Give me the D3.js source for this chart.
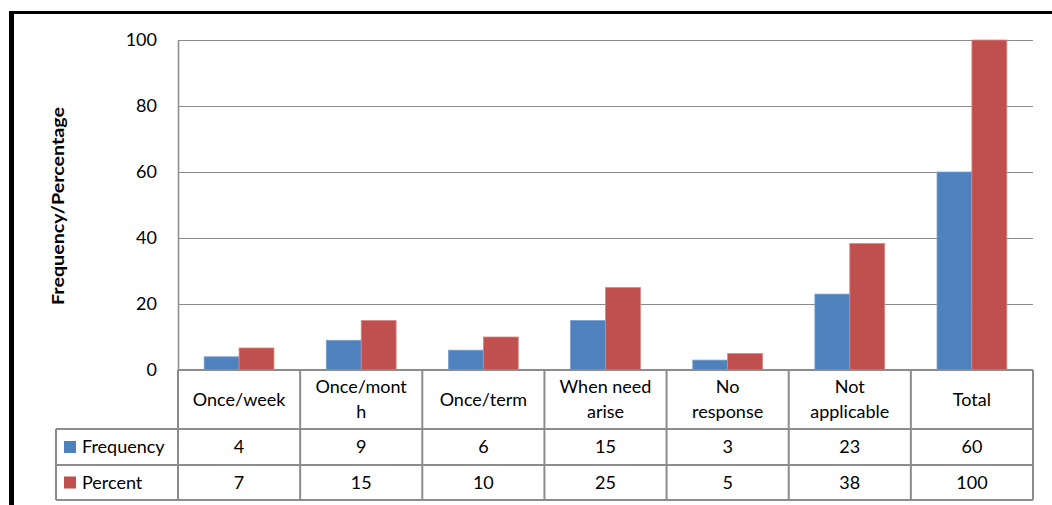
<!DOCTYPE html>
<html>
<head>
<meta charset="utf-8">
<script src="https://cdn.jsdelivr.net/npm/d3@7"></script>
<style>
  body { margin: 0; background: #fff; }
  svg { display: block; font-family: "Lato", "Open Sans", sans-serif; }
</style>
</head>
<body>
<div class="chart"></div>
<script>
// categories and the way Excel wrapped them in the data table
const categories = ["Once/week", "Once/month", "Once/term", "When need arise", "No response", "Not applicable", "Total"];
const categoryLines = [["Once/week"], ["Once/mont", "h"], ["Once/term"], ["When need", "arise"], ["No", "response"], ["Not", "applicable"], ["Total"]];

// series
const frequency = [4, 9, 6, 15, 3, 23, 60];
const percent = [6.67, 15, 10, 25, 5, 38.33, 100];
const seriesNames = ["Frequency", "Percent"];
const yTicks = [0, 20, 40, 60, 80, 100];

const W = 1052, H = 505;
const plotLeft = 178, plotRight = 1033, plotTop = 40, zeroY = 370;
const catRowBottom = 429, freqRowBottom = 465, pctRowBottom = 500, tableLeft = 56;
const fontSize = 18;

const svg = d3.select(".chart").append("svg").attr("width", W).attr("height", H);

// frame (only top and left edge visible in the picture)
svg.append("rect").attr("x", 11).attr("y", 12.5).attr("width", W + 20).attr("height", H + 20)
  .attr("fill", "none").attr("stroke", "#000").attr("stroke-width", 3);
svg.append("line").attr("x1", 11.5).attr("x2", 11.5).attr("y1", 11).attr("y2", H)
  .attr("stroke", "#000").attr("stroke-width", 5);

const x = d3.scaleBand().domain(categories).range([plotLeft, plotRight]);
const y = d3.scaleLinear().domain([0, 100]).range([zeroY, plotTop]);

// bar width from Excel gap width 150%: band = 2 bars + 1.5 bar
const barW = x.bandwidth() / 3.5;
const xs = d3.scaleBand().domain(seriesNames).range([0, 2 * barW]);
const color = d3.scaleOrdinal().domain(seriesNames).range(["#4F81BD", "#C0504D"]);
const edge = d3.scaleOrdinal().domain(seriesNames).range(["#7A9FD0", "#D88684"]);

// gridlines
svg.append("g").selectAll("line").data(yTicks.filter(d => d > 0)).join("line")
  .attr("x1", plotLeft).attr("x2", plotRight)
  .attr("y1", d => Math.round(y(d)) + 0.5).attr("y2", d => Math.round(y(d)) + 0.5)
  .attr("stroke", "#8c8c8c").attr("stroke-width", 1.2);

// y axis
const yAxis = svg.append("g").attr("transform", `translate(${plotLeft},0)`)
  .call(d3.axisLeft(y).tickValues(yTicks).tickSize(0).tickPadding(21));
yAxis.select(".domain").attr("stroke", "#8c8c8c").attr("stroke-width", 1.5);
yAxis.selectAll("text").attr("font-size", fontSize).attr("fill", "#000")
  .attr("font-family", "Lato, 'Open Sans', sans-serif");

// y axis title
svg.append("text")
  .attr("transform", `translate(64,${(plotTop + zeroY) / 2 + 1}) rotate(-90)`)
  .attr("text-anchor", "middle").attr("font-weight", "bold").attr("font-size", 17)
  .attr("textLength", 198).attr("lengthAdjust", "spacingAndGlyphs")
  .text("Frequency/Percentage");

// bars
const rows = categories.map((c, i) => ({ cat: c, Frequency: frequency[i], Percent: percent[i] }));
const group = svg.append("g").selectAll("g").data(rows).join("g")
  .attr("transform", d => `translate(${x(d.cat) + (x.bandwidth() - 2 * barW) / 2},0)`);
group.selectAll("rect").data(d => seriesNames.map(k => ({ key: k, value: d[k] }))).join("rect")
  .attr("x", d => xs(d.key)).attr("width", xs.bandwidth())
  .attr("y", d => y(d.value)).attr("height", d => zeroY - y(d.value))
  .attr("fill", d => color(d.key)).attr("stroke", d => edge(d.key)).attr("stroke-width", 0.8);

// data table
const tbl = svg.append("g").attr("stroke", "#8c8c8c").attr("stroke-width", 2).attr("fill", "none");
tbl.append("line").attr("x1", plotLeft).attr("x2", plotRight).attr("y1", zeroY).attr("y2", zeroY);
[catRowBottom, freqRowBottom, pctRowBottom].forEach(yy =>
  tbl.append("line").attr("x1", tableLeft).attr("x2", plotRight).attr("y1", yy).attr("y2", yy));
tbl.append("line").attr("x1", tableLeft).attr("x2", tableLeft).attr("y1", catRowBottom).attr("y2", pctRowBottom);
categories.forEach(c =>
  tbl.append("line").attr("x1", x(c)).attr("x2", x(c)).attr("y1", zeroY).attr("y2", pctRowBottom));
tbl.append("line").attr("x1", plotRight).attr("x2", plotRight).attr("y1", zeroY).attr("y2", pctRowBottom);

const txt = svg.append("g").attr("font-size", fontSize).attr("fill", "#000").attr("text-anchor", "middle");
categories.forEach((c, i) => {
  const lines = categoryLines[i];
  const cx = x(c) + x.bandwidth() / 2;
  const mid = (zeroY + catRowBottom) / 2;
  lines.forEach((ln, j) => {
    txt.append("text").attr("x", cx)
      .attr("y", mid + (j - (lines.length - 1) / 2) * 25)
      .attr("dy", "0.35em").text(ln);
  });
  txt.append("text").attr("x", cx).attr("y", (catRowBottom + freqRowBottom) / 2).attr("dy", "0.35em")
    .text(d3.format(".0f")(frequency[i]));
  txt.append("text").attr("x", cx).attr("y", (freqRowBottom + pctRowBottom) / 2).attr("dy", "0.35em")
    .text(d3.format(".0f")(percent[i]));
});

// legend keys in the table
const rowMids = [(catRowBottom + freqRowBottom) / 2, (freqRowBottom + pctRowBottom) / 2];
seriesNames.forEach((s, i) => {
  svg.append("rect").attr("x", 64).attr("y", rowMids[i] - 6).attr("width", 12).attr("height", 12)
    .attr("fill", color(s));
  svg.append("text").attr("x", 82).attr("y", rowMids[i]).attr("dy", "0.35em")
    .attr("font-size", fontSize).text(s);
});
</script>
</body>
</html>
